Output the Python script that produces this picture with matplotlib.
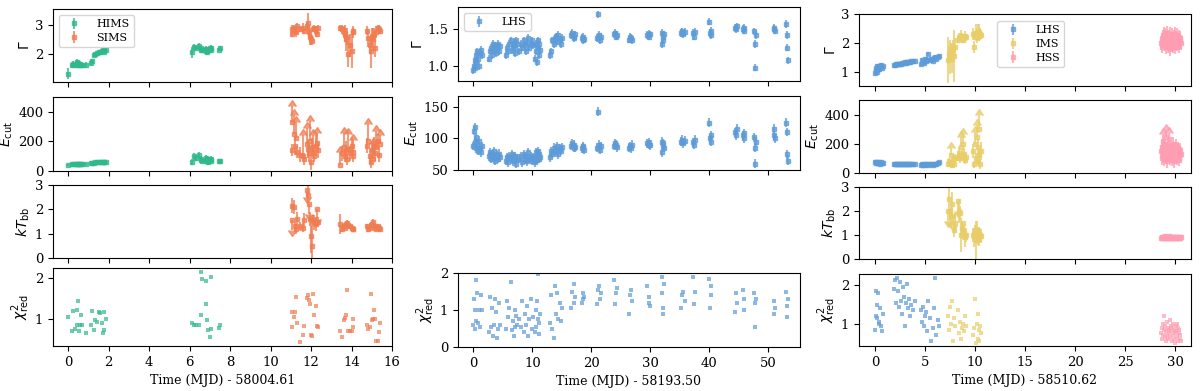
import matplotlib
matplotlib.use('Agg')
import matplotlib.pyplot as plt
import numpy as np

plt.rcParams['font.family'] = 'DejaVu Serif'
plt.rcParams['mathtext.fontset'] = 'dejavusans'
plt.rcParams['font.size'] = 9

# ---------------- left column: MJD 58004.61 ----------------
t_hims = [0.0, 0.17, 0.25, 0.33, 0.42, 0.45, 0.5, 0.53, 0.58, 0.63, 0.67, 0.87,
          1.13, 1.2, 1.3, 1.33, 1.42, 1.53, 1.58, 1.67, 1.7, 1.75, 1.78, 1.87,
          6.13, 6.22, 6.33, 6.45, 6.55, 6.58, 6.63, 6.8, 6.83, 6.87, 6.92, 7.02,
          7.05, 7.08, 7.45, 7.5]
gam_hims = [1.32, 1.6, 1.65, 1.62, 1.68, 1.72, 1.63, 1.6, 1.66, 1.62, 1.6, 1.62,
            1.7, 1.76, 1.95, 1.98, 2.02, 2.08, 2.05, 2.1, 2.12, 2.07, 2.15, 2.13,
            2.05, 2.25, 2.2, 2.28, 2.15, 2.2, 2.12, 2.1, 2.18, 2.05, 2.15, 2.2,
            2.12, 2.22, 2.15, 2.2]
gam_hims_err = [0.2, 0.08, 0.1, 0.08, 0.1, 0.12, 0.08, 0.08, 0.08, 0.08, 0.08, 0.1,
                0.1, 0.08, 0.06, 0.06, 0.06, 0.06, 0.06, 0.06, 0.06, 0.06, 0.06, 0.06,
                0.18, 0.08, 0.08, 0.08, 0.08, 0.08, 0.1, 0.08, 0.08, 0.1, 0.08, 0.08,
                0.08, 0.08, 0.06, 0.06]
ecut_hims = [40, 45, 48, 50, 50, 48, 50, 50, 47, 48, 50, 48,
             52, 55, 55, 58, 60, 62, 60, 63, 62, 60, 62, 63,
             60, 100, 85, 110, 80, 75, 70, 90, 65, 80, 60, 75,
             70, 80, 70, 65]
ecut_hims_err = [6, 6, 6, 6, 6, 6, 6, 6, 6, 6, 6, 6,
                 6, 6, 6, 6, 6, 6, 6, 6, 6, 6, 6, 6,
                 20, 25, 20, 20, 20, 20, 18, 20, 18, 20, 18, 18,
                 18, 18, 12, 12]
chi_hims = [1.04, 0.7, 1.19, 0.74, 0.83, 1.22, 1.44, 0.7, 0.83, 1.09, 0.85, 0.65,
            0.83, 1.19, 0.72, 0.97, 0.91, 1.16, 1.13, 0.9, 0.63, 1.15, 0.72, 1.0,
            0.9, 0.83, 0.83, 0.83, 1.09, 2.14, 1.97, 1.37, 1.94, 0.97, 0.72, 0.54,
            2.02, 0.75, 0.77, 0.85]

t_sims = [11.05, 11.08, 11.17, 11.22, 11.25, 11.3, 11.47, 11.58, 11.63, 11.8,
          11.87, 11.92, 11.97, 12.0, 12.05, 12.08, 12.17, 12.25, 12.3, 12.33,
          13.42, 13.55, 13.62, 13.67, 13.75, 13.8, 13.85, 13.92, 14.0, 14.05, 14.08,
          14.75, 14.83, 14.92, 14.97, 15.0, 15.08, 15.12, 15.17, 15.2, 15.33, 15.37, 15.42]
gam_sims = [2.7, 2.85, 2.9, 2.8, 2.75, 2.95, 2.85, 2.9, 2.8, 2.95,
            3.05, 2.75, 2.6, 2.5, 2.45, 2.85, 2.9, 2.8, 2.7, 2.9,
            2.9, 2.85, 2.75, 2.7, 2.5, 2.6, 2.0, 2.3, 2.1, 2.75, 2.8,
            2.8, 2.55, 2.3, 2.1, 2.6, 2.5, 2.7, 2.2, 2.75, 2.9, 2.85, 2.8]
gam_sims_err = [0.1, 0.15, 0.1, 0.1, 0.15, 0.1, 0.1, 0.15, 0.1, 0.15,
                0.35, 0.2, 0.3, 0.2, 0.15, 0.1, 0.1, 0.15, 0.1, 0.1,
                0.1, 0.15, 0.2, 0.3, 0.4, 0.3, 0.45, 0.4, 0.6, 0.2, 0.1,
                0.15, 0.3, 0.3, 0.6, 0.3, 0.4, 0.2, 0.3, 0.2, 0.1, 0.15, 0.1]
ecut_sims = [330, 140, 250, 170, 220, 130, 110, 100, 80, 180,
             150, 120, 200, 60, 160, 130, 100, 170, 190, 140,
             40, 120, 160, 100, 140, 80, 150, 120, 170, 130, 100,
             170, 200, 100, 60, 140, 80, 170, 120, 160, 200, 110, 180]
ecut_sims_err = [110, 40, 130, 60, 110, 40, 50, 140, 40, 110,
                 60, 60, 140, 50, 60, 110, 40, 70, 70, 50,
                 90, 50, 100, 40, 60, 40, 100, 50, 60, 80, 40,
                 50, 120, 50, 40, 60, 100, 60, 50, 110, 50, 50, 60]
ecut_sims_lim = [1, 0, 1, 0, 1, 0, 0, 1, 0, 1,
                 0, 0, 1, 0, 0, 1, 0, 0, 1, 0,
                 1, 0, 1, 0, 0, 0, 1, 0, 0, 1, 0,
                 0, 1, 0, 0, 0, 1, 0, 0, 1, 0, 0, 1]
ktbb_sims = [2.15, 1.55, 2.1, 1.3, 1.2, 1.6, 1.3, 1.25, 1.55, 2.8,
             2.6, 2.2, 1.6, 0.9, 0.5, 1.55, 1.45, 1.4, 2.0, 1.5,
             1.4, 1.2, 1.3, 1.25, 1.4, 1.45, 1.35, 1.3, 1.25, 1.2, 1.2,
             1.3, 1.2, 1.25, 1.35, 1.4, 1.5, 1.3, 1.25, 1.2, 1.3, 1.25, 1.2]
ktbb_sims_err = [0.3, 0.4, 0.3, 0.2, 0.2, 0.3, 0.2, 0.2, 0.3, 0.3,
                 0.35, 0.4, 0.3, 0.7, 0.8, 0.2, 0.3, 0.3, 0.4, 0.2,
                 0.4, 0.15, 0.15, 0.1, 0.1, 0.1, 0.15, 0.1, 0.1, 0.1, 0.1,
                 0.1, 0.15, 0.1, 0.1, 0.1, 0.1, 0.15, 0.1, 0.1, 0.1, 0.1, 0.15]
ktbb_sims_lim = [0, 1, 0, 0, 0, 0, 0, 0, 0, 1,
                 0, 1, 0, 0, 0, 0, 0, 0, 1, 0,
                 0, 0, 0, 0, 0, 0, 0, 0, 0, 0, 0,
                 0, 0, 0, 0, 0, 0, 0, 0, 0, 0, 0, 0]
chi_sims = [1.17, 0.78, 1.04, 1.17, 1.54, 0.89, 0.41, 0.59, 0.82, 1.5,
            1.57, 1.45, 1.37, 0.59, 0.57, 1.61, 1.09, 1.3, 0.82, 0.8,
            0.7, 0.55, 0.96, 1.02, 1.09, 1.7, 0.7, 0.7, 0.7, 0.78, 1.0,
            0.83, 0.74, 0.8, 1.61, 0.96, 1.0, 1.22, 1.0, 0.45, 0.45, 0.67, 0.88]

# ---------------- middle column: MJD 58193.50 ----------------
t_mid = [0.0, 0.1, 0.2, 0.3, 0.4, 0.5, 0.6, 0.8, 0.9, 1.1, 1.3, 1.4,
         2.6, 2.8, 3.0, 3.1, 3.3, 3.5, 3.6, 3.8, 4.0, 4.2, 4.4, 4.6,
         5.5, 5.7, 5.9, 6.1, 6.3, 6.5, 6.7, 6.9, 7.0, 7.1, 7.3, 7.4,
         7.8, 8.0, 8.3, 8.5, 8.7, 8.9, 9.1, 9.3, 9.5, 9.7, 9.9, 10.1,
         10.5, 10.6, 10.7, 10.8, 10.9, 11.0, 11.1, 11.2, 11.3,
         13.0, 13.2, 13.4, 13.6, 13.8, 14.0, 14.2, 14.4, 14.6, 14.8, 15.0,
         16.6, 16.8, 17.0, 17.1, 17.2, 18.4, 18.5, 18.6, 18.7,
         21.0, 21.2, 21.3, 21.5, 21.7, 23.8, 24.0, 24.1, 24.3,
         26.4, 26.6, 26.7, 26.9, 29.5, 29.7, 29.8, 30.0,
         31.9, 32.0, 32.1, 32.2, 32.3, 35.2, 35.4, 35.6, 35.8,
         37.2, 37.4, 37.6, 40.0, 40.1, 40.2, 40.3,
         44.4, 44.5, 44.6, 45.7, 45.8, 45.9, 47.6, 47.7, 47.8, 47.9,
         50.9, 51.0, 51.1, 53.0, 53.1, 53.2, 53.3]
gam_mid = [0.95, 1.0, 1.08, 0.98, 1.15, 1.05, 1.2, 1.1, 1.0, 1.18, 1.22, 1.15,
           1.1, 1.2, 1.25, 1.15, 1.3, 1.22, 1.28, 1.18, 1.25, 1.3, 1.2, 1.27,
           1.15, 1.25, 1.2, 1.3, 1.35, 1.22, 1.28, 1.32, 1.18, 1.25, 1.35, 1.3,
           1.2, 1.3, 1.25, 1.35, 1.28, 1.2, 1.32, 1.38, 1.25, 1.3, 1.35, 1.28,
           1.1, 1.2, 1.3, 1.05, 1.25, 1.35, 1.15, 1.3, 1.22,
           1.15, 1.2, 1.35, 1.3, 1.38, 1.4, 1.33, 1.42, 1.36, 1.3, 1.38,
           1.42, 1.45, 1.4, 1.38, 1.43, 1.38, 1.35, 1.4, 1.37,
           1.38, 1.7, 1.42, 1.35, 1.4, 1.43, 1.45, 1.4, 1.42,
           1.36, 1.4, 1.38, 1.35, 1.42, 1.44, 1.4, 1.43,
           1.45, 1.3, 1.4, 1.35, 1.43, 1.45, 1.47, 1.43, 1.46,
           1.45, 1.4, 1.46, 1.6, 1.45, 1.42, 1.48,
           1.52, 1.5, 1.54, 1.5, 1.48, 1.52, 1.47, 1.3, 0.98, 1.42,
           1.5, 1.52, 1.48, 1.57, 1.42, 1.25, 1.08]
ecut_mid = [88, 112, 95, 118, 84, 102, 90, 80, 96, 85, 78, 88,
            72, 78, 68, 75, 70, 80, 65, 72, 74, 68, 76, 70,
            65, 70, 62, 72, 68, 75, 64, 70, 66, 72, 60, 68,
            68, 72, 62, 75, 66, 70, 64, 78, 68, 72, 65, 70,
            62, 70, 78, 66, 72, 80, 68, 75, 70,
            70, 80, 76, 85, 78, 82, 88, 75, 84, 80, 86,
            88, 92, 85, 90, 86, 84, 88, 86, 82,
            85, 142, 90, 82, 88, 88, 92, 90, 86,
            85, 88, 84, 90, 92, 90, 94, 89,
            95, 78, 88, 92, 85, 95, 98, 92, 96,
            94, 90, 98, 125, 100, 95, 105,
            110, 105, 115, 105, 100, 108, 102, 85, 60, 95,
            115, 105, 100, 125, 110, 75, 65]
chi_mid = [0.6, 1.3, 0.5, 1.0, 1.8, 0.7, 1.45, 0.65, 1.0, 0.55, 1.4, 1.0,
           0.4, 1.35, 0.55, 1.05, 0.3, 0.6, 1.3, 0.95, 0.25, 0.5, 1.2, 0.6,
           0.5, 1.25, 0.8, 1.05, 1.75, 0.45, 0.7, 0.3, 1.0, 0.55, 0.85, 0.6,
           0.75, 0.55, 1.25, 0.4, 0.9, 0.6, 1.1, 0.3, 0.75, 1.3, 0.5, 0.8,
           0.4, 1.0, 0.55, 1.25, 0.75, 1.97, 0.35, 0.65, 0.9,
           0.65, 1.4, 0.5, 0.25, 1.65, 0.9, 1.45, 0.75, 1.2, 0.7, 1.05,
           1.05, 1.5, 1.7, 1.2, 1.35, 1.2, 1.45, 1.3, 1.35,
           1.15, 1.55, 1.65, 1.3, 1.45, 1.8, 1.15, 1.45, 1.6,
           0.9, 1.4, 1.55, 1.25, 1.65, 1.2, 1.35, 1.1,
           1.9, 1.45, 1.05, 0.9, 1.7, 1.05, 1.4, 1.5, 1.25,
           1.9, 1.15, 1.5, 1.85, 1.05, 1.4, 1.65,
           0.95, 1.45, 1.2, 1.55, 1.0, 1.3, 1.45, 0.55, 1.2, 1.3,
           1.25, 0.9, 1.05, 1.5, 1.1, 0.8, 1.3]
gam_mid_err = 0.05
ecut_mid_err = 7

# ---------------- right column: MJD 58510.62 ----------------
t_lhs = [0.0, 0.05, 0.1, 0.15, 0.2, 0.3, 0.35, 0.4, 0.5, 0.55, 0.65, 0.75,
         1.9, 2.0, 2.1, 2.2, 2.3, 2.4, 2.5, 2.6, 2.7, 2.8, 2.9, 3.0, 3.1, 3.2,
         3.3, 3.4, 3.5, 3.6, 3.8, 4.0,
         4.6, 4.7, 4.8, 4.9, 5.0, 5.1, 5.2, 5.3, 5.5, 5.6, 5.8, 5.9, 6.0, 6.1, 6.3, 6.4]
gam_lhs = [0.95, 1.05, 1.12, 1.0, 1.18, 1.08, 1.2, 1.1, 1.15, 1.22, 1.12, 1.2,
           1.22, 1.24, 1.25, 1.26, 1.25, 1.27, 1.28, 1.28, 1.3, 1.29, 1.31, 1.32, 1.3, 1.33,
           1.34, 1.35, 1.33, 1.36, 1.37, 1.38,
           1.25, 1.4, 1.35, 1.3, 1.45, 1.38, 1.42, 1.6, 1.4, 1.44, 1.38, 1.46, 1.5, 1.45, 1.52, 1.55]
ecut_lhs = [78, 72, 70, 66, 74, 68, 75, 70, 65, 72, 68, 70,
            62, 60, 63, 61, 64, 60, 62, 59, 63, 61, 62, 60, 64, 61,
            63, 60, 62, 61, 63, 60,
            55, 62, 58, 65, 52, 60, 63, 58, 60, 62, 57, 64, 60, 62, 66, 72]
chi_lhs = [0.85, 1.2, 1.85, 1.5, 1.15, 1.8, 1.0, 1.05, 1.4, 0.95, 0.8, 1.25,
           1.9, 2.15, 1.55, 2.2, 1.85, 1.45, 2.1, 1.6, 1.25, 1.95, 1.7, 0.95, 1.55, 2.05,
           1.4, 1.65, 1.2, 1.5, 1.35, 1.6,
           1.35, 1.05, 1.45, 0.95, 1.2, 1.3, 0.8, 1.6, 1.15, 0.55, 0.9, 1.4, 2.2, 0.7, 1.1, 0.95]
gam_lhs_err = 0.07
ecut_lhs_err = 8

t_ims = [7.3, 7.4, 7.5, 7.6, 7.7, 7.8, 7.9, 8.0, 8.3, 8.4, 8.5, 8.6, 8.7, 8.8,
         8.9, 9.0, 9.1, 9.8, 9.9, 10.0, 10.1, 10.2, 10.25, 10.3, 10.35, 10.4, 10.5, 10.6]
gam_ims = [1.4, 1.6, 1.5, 1.7, 1.45, 1.8, 1.55, 1.85, 2.1, 2.2, 2.15, 2.25, 2.2, 2.1,
           2.18, 2.25, 2.2, 2.3, 1.85, 2.25, 2.35, 2.2, 2.4, 2.3, 2.25, 2.35, 2.3, 2.28]
gam_ims_err = [0.8, 0.3, 0.6, 0.3, 0.5, 0.3, 0.9, 0.3, 0.1, 0.15, 0.1, 0.2, 0.15, 0.1,
               0.1, 0.15, 0.1, 0.2, 0.2, 0.15, 0.3, 0.2, 0.25, 0.15, 0.2, 0.3, 0.2, 0.15]
ecut_ims = [60, 80, 70, 120, 55, 90, 65, 100, 110, 140, 100, 180, 120, 200,
            130, 90, 110, 150, 60, 200, 100, 250, 80, 180, 120, 300, 60, 150]
ecut_ims_err = [20, 25, 20, 50, 20, 30, 20, 30, 30, 40, 30, 70, 40, 70,
                40, 30, 30, 50, 25, 80, 40, 80, 30, 60, 40, 100, 30, 60]
ecut_ims_lim = [0, 0, 0, 1, 0, 0, 0, 0, 0, 0, 0, 1, 0, 1,
                0, 0, 0, 0, 0, 1, 0, 1, 0, 0, 0, 1, 0, 0]
ktbb_ims = [2.0, 2.5, 2.0, 1.75, 2.3, 1.8, 1.2, 1.5, 2.4, 2.0, 1.9, 1.0, 1.3, 1.5,
            1.1, 0.9, 1.0, 1.0, 0.9, 1.1, 0.8, 1.2, 0.9, 1.0, 1.05, 0.85, 1.0, 0.95]
ktbb_ims_err = [0.4, 0.5, 0.4, 0.4, 0.5, 0.4, 0.3, 0.4, 0.4, 0.5, 0.3, 0.7, 0.3, 0.4,
                0.3, 0.4, 0.3, 0.3, 0.4, 0.3, 0.8, 0.4, 0.3, 0.3, 0.3, 0.3, 0.3, 0.3]
ktbb_ims_lim = [1, 0, 1, 0, 0, 1, 0, 0, 1, 0, 0, 0, 0, 1,
                0, 0, 0, 0, 0, 0, 0, 0, 0, 0, 0, 0, 0, 0]
chi_ims = [1.2, 0.85, 1.45, 1.0, 1.6, 0.55, 1.15, 0.95, 1.35, 0.75, 1.05, 0.6, 0.9, 1.0,
           0.8, 1.2, 0.95, 0.7, 0.9, 1.65, 0.5, 1.0, 0.6, 1.25, 0.85, 0.55, 0.95, 0.75]

t_hss = [28.6, 28.65, 28.7, 28.75, 28.8, 28.85, 28.9, 28.95, 29.0, 29.05,
         29.1, 29.15, 29.2, 29.25, 29.3, 29.35, 29.4, 29.45, 29.5, 29.55,
         29.6, 29.65, 29.7, 29.75, 29.8, 29.85, 29.9, 29.95, 30.0, 30.05,
         30.1, 30.15, 30.2, 30.25, 30.3, 30.35, 30.4, 30.45, 30.5, 30.55]
gam_hss = [2.0, 2.1, 1.9, 2.2, 2.05, 2.3, 1.95, 2.15, 2.25, 1.85,
           2.1, 2.0, 2.35, 1.9, 2.2, 2.05, 2.15, 1.8, 2.3, 2.0,
           2.1, 1.95, 2.25, 2.05, 1.9, 2.2, 2.0, 2.3, 1.85, 2.1,
           2.15, 1.95, 2.25, 2.0, 2.1, 1.9, 2.2, 2.05, 2.15, 2.0]
ecut_hss = [150, 180, 100, 220, 130, 90, 200, 160, 110, 250,
            140, 170, 80, 190, 120, 230, 150, 100, 180, 130,
            160, 90, 140, 200, 120, 170, 80, 150, 110, 190,
            130, 160, 100, 140, 170, 90, 150, 120, 160, 130]
ecut_hss_lim = [0, 0, 0, 1, 0, 0, 0, 0, 0, 1,
                0, 0, 0, 0, 0, 1, 0, 0, 0, 0,
                0, 0, 0, 0, 0, 0, 0, 0, 0, 0,
                0, 0, 0, 0, 0, 0, 0, 0, 0, 0]
ktbb_hss = [0.88, 0.9, 0.86, 0.92, 0.89, 0.87, 0.93, 0.9, 0.95, 0.88,
            0.91, 0.89, 0.86, 0.92, 0.9, 0.88, 0.94, 0.87, 0.9, 0.89,
            0.91, 0.88, 0.93, 0.9, 0.86, 0.89, 0.92, 0.88, 0.9, 0.87,
            0.91, 0.89, 0.93, 0.88, 0.9, 0.86, 0.89, 0.91, 0.87, 0.9]
chi_hss = [0.75, 0.9, 0.6, 1.0, 0.7, 0.85, 1.2, 0.65, 0.95, 0.55,
           0.8, 1.05, 0.7, 0.9, 0.6, 0.85, 0.75, 1.1, 0.65, 0.95,
           0.8, 0.55, 0.9, 0.7, 1.0, 0.6, 0.85, 0.75, 0.5, 0.95,
           0.8, 1.0, 0.65, 0.9, 0.55, 0.75, 0.85, 0.6, 0.7, 0.55]
gam_hss_err = 0.25
ecut_hss_err = 45
ktbb_hss_err = 0.04

c_hims = '#2fb88a'
c_sims = '#f07c52'
c_lhs = '#5d9bd8'
c_ims = '#e8cd68'
c_hss = '#ff9db2'

W, H = 1200, 391
fig = plt.figure(figsize=(12, 3.91), dpi=100)


def add_ax(x0, x1, top, bot):
    ax = fig.add_axes([x0 / W, 1 - bot / H, (x1 - x0) / W, (bot - top) / H])
    ax.tick_params(labelfontfamily='DejaVu Serif', labelsize=9.5)
    return ax


def eb(ax, t, y, err, color, label=None, lolims=False, uplims=False):
    lo = np.array(lolims, dtype=bool) if not isinstance(lolims, bool) else lolims
    up = np.array(uplims, dtype=bool) if not isinstance(uplims, bool) else uplims
    ax.errorbar(t, y, yerr=err, fmt='s', ms=3, color=color, alpha=0.75,
                elinewidth=1.5, lolims=lo, uplims=up, label=label)


def chi(ax, t, y, color):
    ax.scatter(t, y, marker='s', s=12, color=color, alpha=0.7, linewidths=0)


def leg(ax, **kw):
    ax.legend(fontsize=8, labelspacing=0.35, borderpad=0.4, handletextpad=1.0, **kw)


ylab = [r'$\Gamma$', r'$E_{\rm cut}$', r'$kT_{\rm bb}$', r'$\chi^2_{\rm red}$']

# left column
L = [add_ax(53, 392, 9, 82), add_ax(53, 392, 97, 171),
     add_ax(53, 392, 185, 258), add_ax(53, 392, 268, 346)]
eb(L[0], t_hims, gam_hims, gam_hims_err, c_hims, 'HIMS')
eb(L[0], t_sims, gam_sims, gam_sims_err, c_sims, 'SIMS')
eb(L[1], t_hims, ecut_hims, ecut_hims_err, c_hims)
eb(L[1], t_sims, ecut_sims, ecut_sims_err, c_sims, lolims=ecut_sims_lim)
eb(L[2], t_sims, ktbb_sims, ktbb_sims_err, c_sims, uplims=ktbb_sims_lim)
chi(L[3], t_hims, chi_hims, c_hims)
chi(L[3], t_sims, chi_sims, c_sims)
L[0].set_ylim(1.03, 3.55)
L[0].set_yticks([2, 3])
L[1].set_ylim(0, 500)
L[1].set_yticks([0, 200, 400])
L[2].set_ylim(0, 3)
L[2].set_yticks([0, 1, 2, 3])
L[3].set_ylim(0.32, 2.25)
L[3].set_yticks([1, 2])
leg(L[0], loc='upper left')
for i, ax in enumerate(L):
    ax.set_xlim(-0.75, 16.0)
    ax.set_xticks(range(0, 17, 2))
    ax.set_ylabel(ylab[i], fontsize=10, labelpad=2)
    if i < 3:
        ax.set_xticklabels([])
L[3].set_xlabel('Time (MJD) - 58004.61')

# middle column
M = [add_ax(458, 800, 7, 81), add_ax(458, 800, 96, 170), add_ax(458, 800, 273, 347)]
eb(M[0], t_mid, gam_mid, gam_mid_err, c_lhs, 'LHS')
eb(M[1], t_mid, ecut_mid, ecut_mid_err, c_lhs)
chi(M[2], t_mid, chi_mid, c_lhs)
M[0].set_ylim(0.8, 1.8)
M[0].set_yticks([1.0, 1.5])
M[1].set_ylim(50, 167)
M[1].set_yticks([50, 100, 150])
M[2].set_ylim(0, 2)
M[2].set_yticks([0, 1, 2])
leg(M[0], loc='upper left')
for i, ax in enumerate(M):
    ax.set_xlim(-2.6, 55.35)
    ax.set_xticks(range(0, 51, 10))
    ax.set_ylabel([ylab[0], ylab[1], ylab[3]][i], fontsize=10, labelpad=2)
    if i < 2:
        ax.set_xticklabels([])
M[2].set_xlabel('Time (MJD) - 58193.50')

# right column
R = [add_ax(859, 1191, 14, 86), add_ax(859, 1191, 100, 173),
     add_ax(859, 1191, 187, 259), add_ax(859, 1191, 274, 346)]
eb(R[0], t_lhs, gam_lhs, gam_lhs_err, c_lhs, 'LHS')
eb(R[0], t_ims, gam_ims, gam_ims_err, c_ims, 'IMS')
eb(R[0], t_hss, gam_hss, gam_hss_err, c_hss, 'HSS')
eb(R[1], t_lhs, ecut_lhs, ecut_lhs_err, c_lhs)
eb(R[1], t_ims, ecut_ims, ecut_ims_err, c_ims, lolims=ecut_ims_lim)
eb(R[1], t_hss, ecut_hss, ecut_hss_err, c_hss, lolims=ecut_hss_lim)
eb(R[2], t_ims, ktbb_ims, ktbb_ims_err, c_ims, uplims=ktbb_ims_lim)
eb(R[2], t_hss, ktbb_hss, ktbb_hss_err, c_hss)
chi(R[3], t_lhs, chi_lhs, c_lhs)
chi(R[3], t_ims, chi_ims, c_ims)
chi(R[3], t_hss, chi_hss, c_hss)
R[0].set_ylim(0.5, 3)
R[0].set_yticks([1, 2, 3])
R[1].set_ylim(0, 500)
R[1].set_yticks([0, 200, 400])
R[2].set_ylim(0, 3)
R[2].set_yticks([0, 1, 2, 3])
R[3].set_ylim(0.42, 2.3)
R[3].set_yticks([1, 2])
leg(R[0], loc='upper left', bbox_to_anchor=(0.40, 0.985))
for i, ax in enumerate(R):
    ax.set_xlim(-1.6, 31.6)
    ax.set_xticks(range(0, 31, 5))
    ax.set_ylabel(ylab[i], fontsize=10, labelpad=2)
    if i < 3:
        ax.set_xticklabels([])
R[3].set_xlabel('Time (MJD) - 58510.62')

fig.savefig('out.png', dpi=100)
